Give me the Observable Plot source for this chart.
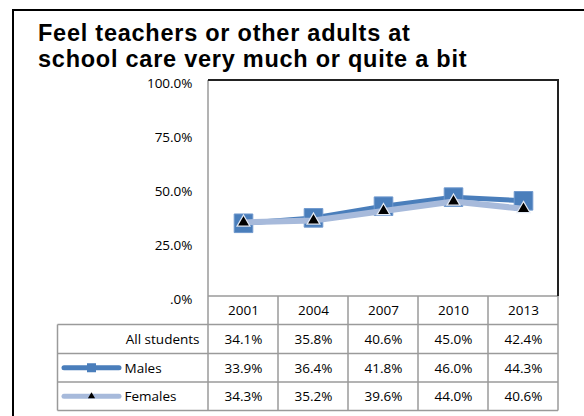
<!DOCTYPE html>
<html><head><meta charset="utf-8">
<script src="https://cdn.jsdelivr.net/npm/d3@7"></script>
<script src="https://cdn.jsdelivr.net/npm/@observablehq/plot@0.6"></script>
<style>
html,body{margin:0;padding:0;background:#fff;}
body{width:584px;height:416px;overflow:hidden;position:relative;}
#border{position:absolute;left:12px;top:9px;width:640px;height:460px;border:2px solid #000;box-sizing:border-box;}
#title{position:absolute;left:38px;top:20px;font:bold 23.5px/26.3px "Liberation Sans",Arial,sans-serif;letter-spacing:0.75px;color:#000;white-space:nowrap;}
#chart{position:absolute;left:0;top:0;}
</style></head><body>
<div id="border"></div>
<div id="chart"></div>
<div id="title">Feel teachers or other adults at<br>school care very much or quite a bit</div>
<script>
const years = ["2001", "2004", "2007", "2010", "2013"];
const allStudents = [34.1, 35.8, 40.6, 45.0, 42.4];
const males = [33.9, 36.4, 41.8, 46.0, 44.3];
const females = [34.3, 35.2, 39.6, 44.0, 40.6];
const seriesNames = ["All students", "Males", "Females"];
const yTicks = [0, 25, 50, 75, 100];
const yTickLabels = [".0%", "25.0%", "50.0%", "75.0%", "100.0%"];

const rows = [
  {name: seriesNames[0], values: allStudents},
  {name: seriesNames[1], values: males},
  {name: seriesNames[2], values: females}
];
const maleData = years.map((year, i) => ({year, value: males[i]}));
const femaleData = years.map((year, i) => ({year, value: females[i]}));
const tickData = yTicks.map((t, i) => ({t, label: yTickLabels[i]}));
const fmt = v => v.toFixed(1) + "%";

const maleColor = "#4a7ebb", femaleColor = "#a7badb";
const gridColor = "#9a9a9a";
// table layout (pixel offsets below the y=0 baseline)
const lineOffsets = [0, 28.5, 57.5, 86, 114.5];
const headerDy = 14;
const rowDy = [43, 71.75, 100.25];
const tableLeft = 57.5;

function tableGrid(index, scales, values, dims) {
  const x = scales.x, y = scales.y;
  const step = x.step ? x.step() : (dims.width - dims.marginLeft - dims.marginRight) / years.length;
  const left = x(years[0]) - step / 2;
  const right = x(years[years.length - 1]) + step / 2;
  const y0 = y(0), top = y(100);
  const g = d3.create("svg:g").attr("fill", "none");
  const gray = g.append("g").attr("stroke", gridColor).attr("stroke-width", 1.5);
  years.forEach((yr, i) => {
    const xx = x(yr) - step / 2;
    gray.append("line").attr("x1", xx).attr("x2", xx)
      .attr("y1", i === 0 ? top : y0).attr("y2", y0 + lineOffsets[4]);
  });
  gray.append("line").attr("x1", right).attr("x2", right).attr("y1", y0).attr("y2", y0 + lineOffsets[4]);
  gray.append("line").attr("x1", tableLeft).attr("x2", tableLeft).attr("y1", y0 + lineOffsets[1]).attr("y2", y0 + lineOffsets[4]);
  lineOffsets.forEach((o, k) => {
    gray.append("line").attr("x1", k === 0 ? left : tableLeft).attr("x2", right)
      .attr("y1", y0 + o).attr("y2", y0 + o);
  });
  const dark = g.append("g").attr("stroke", "#222").attr("stroke-width", 2);
  dark.append("line").attr("x1", left).attr("x2", right + 1).attr("y1", top).attr("y2", top);
  dark.append("line").attr("x1", right).attr("x2", right).attr("y1", top).attr("y2", y0);
  return g.node();
}

function legendSwatches(index, scales, values, dims) {
  const y0 = scales.y(0);
  const g = d3.create("svg:g");
  const x1 = 64, x2 = 119, xm = 91.5;
  const ym = y0 + rowDy[1];
  g.append("line").attr("x1", x1).attr("x2", x2).attr("y1", ym).attr("y2", ym)
    .attr("stroke", maleColor).attr("stroke-width", 5).attr("stroke-linecap", "round");
  g.append("rect").attr("x", xm - 4.5).attr("y", ym - 4.5).attr("width", 9).attr("height", 9).attr("fill", maleColor);
  const yf = y0 + rowDy[2];
  g.append("line").attr("x1", x1).attr("x2", x2).attr("y1", yf).attr("y2", yf)
    .attr("stroke", femaleColor).attr("stroke-width", 5).attr("stroke-linecap", "round");
  g.append("path").attr("d", d3.symbol(d3.symbolTriangle, 22)()).attr("transform", `translate(${xm},${yf})`).attr("fill", "#000");
  return g.node();
}

const zero = () => 0;
const marks = [
  tableGrid,
  Plot.text(tickData, {y: "t", text: "label", frameAnchor: "left", dx: -15, dy: 3, textAnchor: "end", fill: "#000"}),
  Plot.line(maleData, {x: "year", y: "value", stroke: maleColor, strokeWidth: 5}),
  Plot.dot(maleData, {x: "year", y: "value", symbol: "square", r: 10.5, fill: maleColor, stroke: "#6f98cd", strokeWidth: 1}),
  Plot.line(femaleData, {x: "year", y: "value", stroke: femaleColor, strokeWidth: 6}),
  Plot.dot(femaleData, {x: "year", y: "value", symbol: "triangle", r: 4.8, fill: "#000", stroke: "#e3eaf5", strokeWidth: 1.2}),
  Plot.text(years, {x: d => d, y: zero, dy: headerDy, text: d => d, fill: "#000"}),
  ...rows.map((r, k) => Plot.text(years.map((yr, i) => ({year: yr, v: r.values[i]})),
    {x: "year", y: zero, dy: rowDy[k], text: d => fmt(d.v), fill: "#000"})),
  ...rows.map((r, k) => Plot.text([r], {
    frameAnchor: "left", y: zero, dy: rowDy[k], dx: k === 0 ? -8 : -83,
    textAnchor: k === 0 ? "end" : "start", text: "name", fill: "#000"
  })),
  legendSwatches
];

const chart = Plot.plot({
  width: 584,
  height: 416,
  marginLeft: 207,
  marginRight: 25,
  marginTop: 80,
  marginBottom: 120,
  style: {fontFamily: "'Open Sans', sans-serif", fontSize: "13.5px", fontWeight: 400, background: "transparent", overflow: "visible", color: "#000"},
  x: {type: "point", domain: years, padding: 0.5, axis: null},
  y: {domain: [0, 100], axis: null},
  marks
});
document.getElementById("chart").appendChild(chart);
</script>
</body></html>
